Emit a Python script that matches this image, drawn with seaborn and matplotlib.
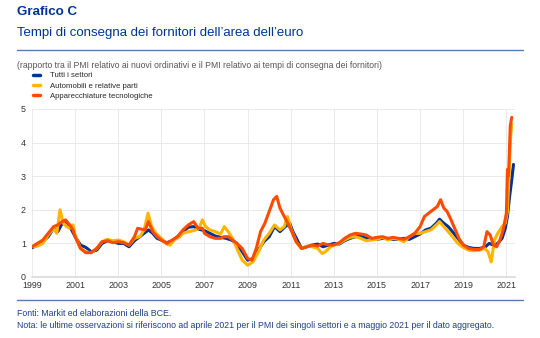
import matplotlib
matplotlib.use("Agg")
import matplotlib.pyplot as plt
import matplotlib.lines as mlines
import seaborn as sns
import pandas as pd

# ---- data ----
tutti_x = [1999.0, 1999.25, 1999.5, 1999.75, 2000.0, 2000.2, 2000.4, 2000.6, 2000.8, 2001.0,
           2001.25, 2001.5, 2001.75, 2002.0, 2002.25, 2002.5, 2002.75, 2003.0, 2003.25, 2003.5,
           2003.75, 2004.0, 2004.2, 2004.4, 2004.6, 2004.8, 2005.0, 2005.25, 2005.5, 2005.75,
           2006.0, 2006.25, 2006.5, 2006.75, 2007.0, 2007.25, 2007.5, 2007.75, 2008.0, 2008.25,
           2008.5, 2008.75, 2009.0, 2009.25, 2009.5, 2009.75, 2010.0, 2010.25, 2010.5, 2010.75,
           2010.95, 2011.1, 2011.3, 2011.5, 2011.75, 2012.0, 2012.25, 2012.5, 2012.75, 2013.0,
           2013.25, 2013.5, 2013.75, 2014.0, 2014.25, 2014.5, 2014.75, 2015.0, 2015.25, 2015.5,
           2015.75, 2016.0, 2016.25, 2016.5, 2016.75, 2017.0, 2017.25, 2017.5, 2017.75, 2017.9,
           2018.1, 2018.3, 2018.5, 2018.75, 2019.0, 2019.25, 2019.5, 2019.75, 2020.0, 2020.2,
           2020.4, 2020.6, 2020.8, 2020.95, 2021.05, 2021.15, 2021.25, 2021.33]
tutti_y = [0.87, 0.95, 1.05, 1.2, 1.45, 1.35, 1.6, 1.65, 1.45, 1.2,
           0.95, 0.88, 0.75, 0.8, 1.0, 1.08, 1.05, 1.0, 1.0, 0.9,
           1.08, 1.2, 1.3, 1.4, 1.3, 1.15, 1.1, 1.02, 1.08, 1.2,
           1.35, 1.48, 1.5, 1.42, 1.38, 1.3, 1.22, 1.18, 1.15, 1.1,
           1.0, 0.75, 0.5, 0.55, 0.8, 1.05, 1.2, 1.5, 1.35, 1.5,
           1.6, 1.35, 1.1, 0.85, 0.9, 0.95, 0.98, 0.9, 0.95, 1.0,
           0.98, 1.08, 1.15, 1.2, 1.22, 1.15, 1.12, 1.12, 1.15, 1.15,
           1.12, 1.12, 1.15, 1.12, 1.2, 1.28, 1.4, 1.45, 1.6, 1.72,
           1.6, 1.5, 1.35, 1.15, 0.95, 0.88, 0.85, 0.85, 0.88, 1.0,
           0.95, 1.0, 1.15, 1.45, 1.8, 2.4, 2.9, 3.35]

auto_x = [1999.0, 1999.25, 1999.5, 1999.75, 2000.0, 2000.15, 2000.3, 2000.45, 2000.6, 2000.75,
          2000.9, 2001.0, 2001.25, 2001.5, 2001.75, 2002.0, 2002.25, 2002.5, 2002.75, 2003.0,
          2003.25, 2003.5, 2003.75, 2004.0, 2004.2, 2004.38, 2004.55, 2004.75, 2005.0, 2005.25,
          2005.4, 2005.6, 2005.85, 2006.0, 2006.25, 2006.5, 2006.75, 2006.9, 2007.05, 2007.25,
          2007.5, 2007.75, 2007.92, 2008.1, 2008.3, 2008.5, 2008.75, 2009.0, 2009.25, 2009.5,
          2009.75, 2010.0, 2010.25, 2010.5, 2010.7, 2010.85, 2011.0, 2011.25, 2011.5, 2011.75,
          2012.0, 2012.25, 2012.45, 2012.6, 2012.85, 2013.0, 2013.25, 2013.5, 2013.75, 2014.0,
          2014.25, 2014.5, 2014.75, 2015.0, 2015.25, 2015.5, 2015.75, 2016.0, 2016.25, 2016.5,
          2016.75, 2017.0, 2017.25, 2017.5, 2017.75, 2017.9, 2018.1, 2018.3, 2018.5, 2018.75,
          2019.0, 2019.25, 2019.5, 2019.75, 2020.0, 2020.15, 2020.3, 2020.45, 2020.6, 2020.8,
          2020.95, 2021.05, 2021.12, 2021.2, 2021.25]
auto_y = [0.9, 0.92, 1.0, 1.25, 1.45, 1.3, 2.0, 1.6, 1.5, 1.45,
          1.55, 1.25, 0.85, 0.75, 0.72, 0.85, 1.05, 1.12, 1.08, 1.1,
          1.05, 0.95, 1.15, 1.2, 1.4, 1.9, 1.5, 1.3, 1.15, 0.98,
          0.95, 1.1, 1.2, 1.3, 1.35, 1.38, 1.45, 1.7, 1.5, 1.4,
          1.35, 1.28, 1.5, 1.35, 1.15, 0.85, 0.5, 0.35, 0.45, 0.75,
          1.1, 1.3, 1.55, 1.4, 1.5, 1.8, 1.45, 1.05, 0.85, 0.92,
          0.9, 0.85, 0.7, 0.75, 0.9, 0.95, 1.0, 1.1, 1.18, 1.2,
          1.15, 1.08, 1.1, 1.12, 1.18, 1.1, 1.15, 1.12, 1.05, 1.2,
          1.3, 1.3, 1.35, 1.4, 1.55, 1.65, 1.5, 1.35, 1.2, 1.0,
          0.88, 0.8, 0.78, 0.8, 0.85, 0.75, 0.45, 1.1, 1.3, 1.5,
          1.6, 1.95, 3.0, 4.2, 4.55]

tech_x = [1999.0, 1999.25, 1999.5, 1999.75, 2000.0, 2000.2, 2000.4, 2000.55, 2000.75, 2000.9,
          2001.0, 2001.25, 2001.5, 2001.75, 2002.0, 2002.25, 2002.5, 2002.75, 2003.0, 2003.25,
          2003.5, 2003.75, 2003.9, 2004.1, 2004.25, 2004.4, 2004.6, 2004.8, 2005.0, 2005.25,
          2005.5, 2005.75, 2006.0, 2006.25, 2006.5, 2006.7, 2006.9, 2007.0, 2007.25, 2007.5,
          2007.75, 2007.9, 2008.1, 2008.3, 2008.5, 2008.75, 2009.0, 2009.2, 2009.4, 2009.6,
          2009.8, 2010.0, 2010.2, 2010.35, 2010.5, 2010.7, 2010.9, 2011.05, 2011.25, 2011.5,
          2011.75, 2012.0, 2012.25, 2012.5, 2012.75, 2013.0, 2013.25, 2013.5, 2013.75, 2014.0,
          2014.25, 2014.5, 2014.75, 2015.0, 2015.25, 2015.5, 2015.75, 2016.0, 2016.25, 2016.5,
          2016.75, 2017.0, 2017.2, 2017.4, 2017.6, 2017.8, 2017.95, 2018.1, 2018.25, 2018.4,
          2018.6, 2018.8, 2019.0, 2019.25, 2019.5, 2019.75, 2019.95, 2020.1, 2020.25, 2020.4,
          2020.55, 2020.7, 2020.85, 2021.0, 2021.05, 2021.1, 2021.18, 2021.25]
tech_y = [0.9, 1.0, 1.1, 1.3, 1.5, 1.55, 1.65, 1.7, 1.55, 1.4,
          1.2, 0.85, 0.72, 0.73, 0.85, 1.05, 1.08, 1.02, 1.05, 1.02,
          0.95, 1.2, 1.45, 1.42, 1.4, 1.65, 1.35, 1.2, 1.1, 1.0,
          1.1, 1.2, 1.4, 1.55, 1.65, 1.45, 1.45, 1.3, 1.2, 1.15,
          1.15, 1.2, 1.2, 1.1, 1.0, 0.85, 0.55, 0.5, 0.85, 1.35,
          1.6, 1.95, 2.3, 2.4, 2.05, 1.8, 1.55, 1.35, 1.05, 0.85,
          0.9, 0.95, 0.92, 1.0, 0.95, 0.95, 1.02, 1.15, 1.25, 1.3,
          1.28, 1.25, 1.15, 1.18, 1.2, 1.15, 1.18, 1.15, 1.12, 1.2,
          1.3, 1.5, 1.8, 1.9, 2.0, 2.1, 2.3, 2.05, 1.95, 1.75,
          1.45, 1.15, 0.95, 0.85, 0.82, 0.82, 0.9, 1.35, 1.25, 0.95,
          0.9, 1.1, 1.4, 1.9, 3.2, 3.0, 4.5, 4.75]

series_names = ["Tutti i settori", "Automobili e relative parti", "Apparecchiature tecnologiche"]
series_colors = ["#003299", "#ffb400", "#ff4b00"]
year_ticks = list(range(1999, 2022, 2))
y_ticks = [0, 1, 2, 3, 4, 5]

title = "Grafico C"
subtitle = "Tempi di consegna dei fornitori dell\u2019area dell\u2019euro"
unit_note = "(rapporto tra il PMI relativo ai nuovi ordinativi e il PMI relativo ai tempi di consegna dei fornitori)"
source = "Fonti: Markit ed elaborazioni della BCE."
note = ("Nota: le ultime osservazioni si riferiscono ad aprile 2021 per il PMI dei singoli settori "
        "e a maggio 2021 per il dato aggregato.")

# ---- plotting ----
sns.set_theme(style="white")
plt.rcParams["font.family"] = ["Liberation Sans", "DejaVu Sans"]

W, H = 540, 338
fig = plt.figure(figsize=(W / 100, H / 100), dpi=100)
ax = fig.add_axes([32 / W, 1 - 277 / H, (515 - 32) / W, (277 - 109) / H])

frames = [
    pd.DataFrame({"x": tutti_x, "y": tutti_y}),
    pd.DataFrame({"x": auto_x, "y": auto_y}),
    pd.DataFrame({"x": tech_x, "y": tech_y}),
]
for df, c in zip(frames, series_colors):
    sns.lineplot(data=df, x="x", y="y", ax=ax, color=c, linewidth=2.2, legend=False)

ax.set_xlim(1999, 2021.4)
ax.set_ylim(0, 5)
ax.set_xticks(year_ticks)
ax.set_xticklabels([str(t) for t in year_ticks])
ax.set_yticks(y_ticks)
ax.set_xlabel("")
ax.set_ylabel("")
ax.grid(True, color="#e6e6e6", linewidth=0.6)
ax.set_axisbelow(True)
for s in ["top", "right", "left"]:
    ax.spines[s].set_visible(False)
ax.spines["bottom"].set_color("#d9d9d9")
ax.spines["bottom"].set_linewidth(1.2)
ax.tick_params(axis="both", labelsize=6.4, colors="#333333", length=0, pad=3)
ax.tick_params(axis="y", pad=8)
for lab in ax.get_yticklabels():
    lab.set_horizontalalignment("left")

# legend
handles = [mlines.Line2D([], [], color=c, linewidth=2.5) for c in series_colors]
fig.legend(handles, series_names, loc="upper left", bbox_to_anchor=(33 / W, 1 - 72 / H),
           frameon=False, fontsize=5.6, handlelength=0.9, handletextpad=1.3,
           labelspacing=0.36, borderaxespad=0, borderpad=0)

# texts
fig.text(17 / W, 1 - 12 / H, title, fontsize=9.6, fontweight="bold", color="#003299", va="center")
fig.text(17 / W, 1 - 33 / H, subtitle, fontsize=9.5, color="#003299", va="center")
fig.add_artist(mlines.Line2D([17 / W, 523 / W], [1 - 50 / H, 1 - 50 / H], color="#5b7bb0", linewidth=1.0))
fig.text(17 / W, 1 - 65 / H, unit_note, fontsize=6.2, color="#555555", va="center")
fig.add_artist(mlines.Line2D([17 / W, 523 / W], [1 - 300 / H, 1 - 300 / H], color="#5b7bb0", linewidth=1.0))
fig.text(17 / W, 1 - 313 / H, source, fontsize=6.3, color="#1f3f8a", va="center")
fig.text(17 / W, 1 - 325 / H, note, fontsize=6.3, color="#1f3f8a", va="center")

fig.savefig("out.png", dpi=100, facecolor="white")
